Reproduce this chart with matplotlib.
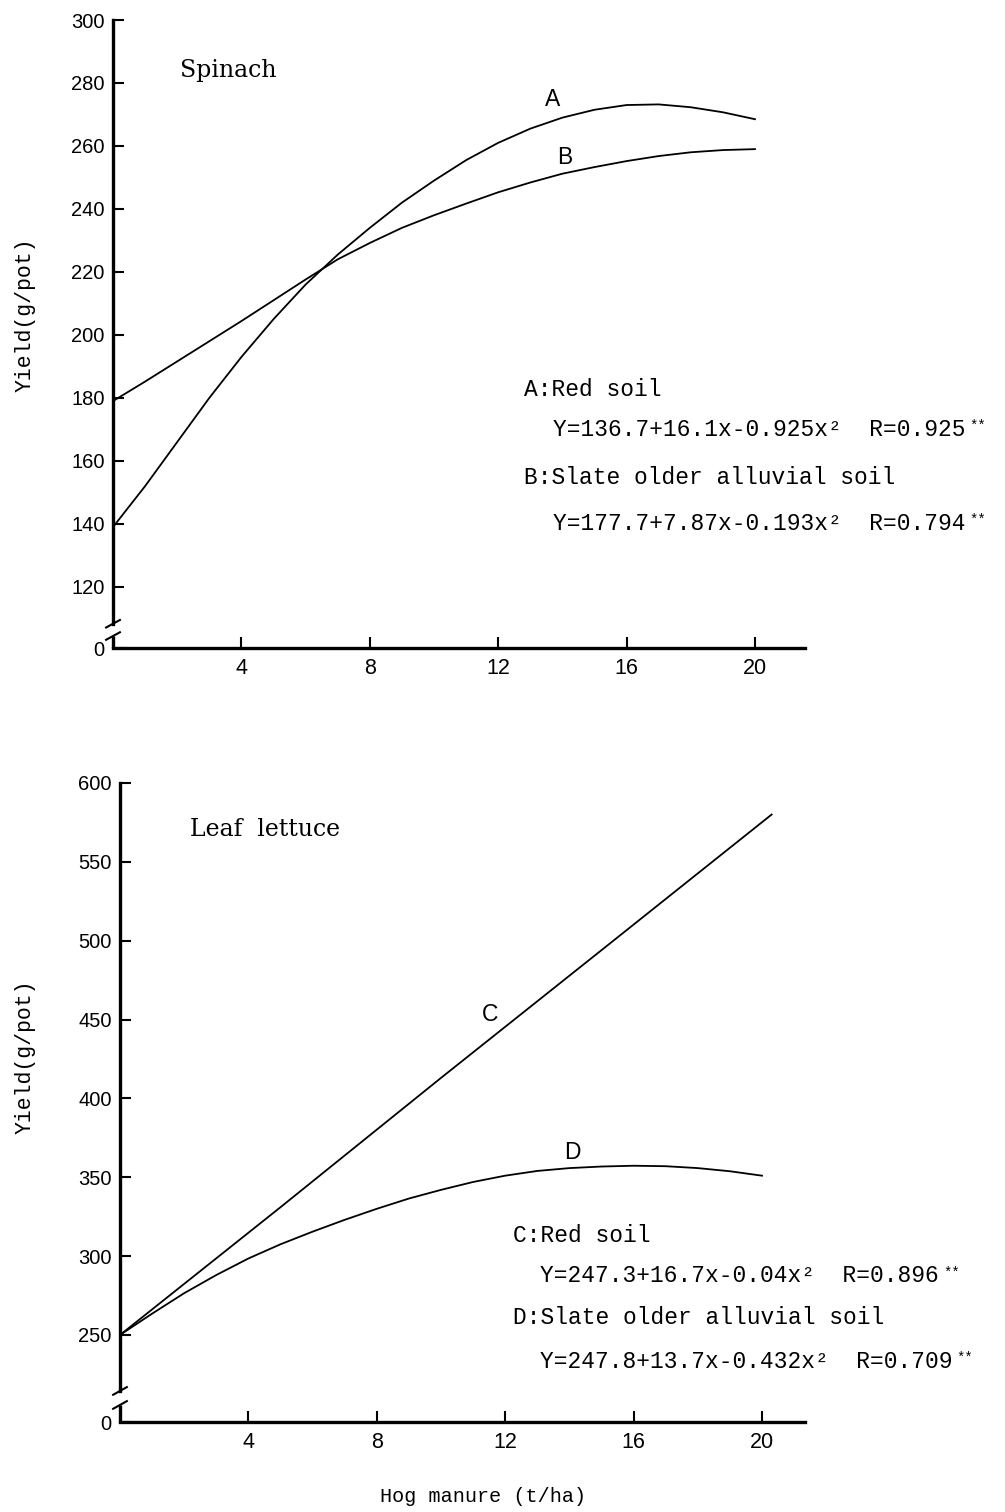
import matplotlib
matplotlib.use('Agg')
import matplotlib.pyplot as plt

# Spinach: hog manure (t/ha) vs yield (g/pot)
sp_x = list(range(0, 21))
sp_a = [139, 152, 166, 180, 193, 205, 216, 225.5, 234, 242, 249,
        255.5, 261, 265.5, 269, 271.5, 273, 273.2, 272.3, 270.7, 268.5]
sp_b = [179, 185.2, 191.6, 198, 204.4, 211, 217.6, 224, 229.2, 234, 238,
        241.7, 245.3, 248.4, 251.2, 253.3, 255.2, 256.8, 258, 258.7, 259]

# Leaf lettuce
lt_c_x = [0, 5, 10, 15, 20.3]
lt_c = [250, 331, 413, 494, 580]
lt_d_x = list(range(0, 21))
lt_d = [250, 263.5, 276.5, 288, 298.5, 307.5, 315.5, 323, 330, 336.5, 342,
        347, 351, 354, 355.8, 356.8, 357.3, 357, 355.8, 353.8, 351]

sp_yticks = [120, 140, 160, 180, 200, 220, 240, 260, 280, 300]
lt_yticks = [250, 300, 350, 400, 450, 500, 550, 600]
xticks = [4, 8, 12, 16, 20]

W, H = 1005, 1512
fig = plt.figure(figsize=(W / 100, H / 100), dpi=100)

mono = 'Liberation Mono'
tick_font = 'Liberation Sans'


def px_axes(left, right, top, bottom):
    return fig.add_axes([left / W, 1 - bottom / H, (right - left) / W, (bottom - top) / H])


def ftext(x, y, s, **kw):
    return fig.text(x / W, 1 - y / H, s, **kw)


def setup(ax, ylo, yhi, yticks, brk_hi, brk_lo, xmax):
    ax.set_xlim(0, xmax)
    ax.set_ylim(ylo, yhi)
    for s in ['top', 'right']:
        ax.spines[s].set_visible(False)
    ax.spines['left'].set_linewidth(2.4)
    ax.spines['bottom'].set_linewidth(2.4)
    ax.spines['left'].set_bounds(brk_hi, yhi)
    # нижний кусок разорванной оси y
    tr = ax.get_yaxis_transform()
    ax.plot([0, 0], [ylo, brk_lo], color='black', lw=2.4, transform=tr, clip_on=False,
            solid_capstyle='butt')
    dy = (yhi - ylo) * 0.006
    for yb in (brk_hi, brk_lo):
        ax.plot([-0.01, 0.01], [yb - dy, yb + dy], color='black', lw=1.5,
                transform=tr, clip_on=False)
    ax.set_yticks([ylo] + yticks)
    ax.set_yticklabels(['0'] + [str(v) for v in yticks])
    ax.set_xticks(xticks)
    ax.set_xticklabels([str(v) for v in xticks])
    ax.tick_params(axis='y', direction='in', length=8, width=1.5, pad=6)
    ax.tick_params(axis='x', direction='in', length=8, width=1.5, pad=7)
    for lab in ax.get_yticklabels():
        lab.set_family(tick_font)
        lab.set_fontsize(14.5)
    for lab in ax.get_xticklabels():
        lab.set_family(tick_font)
        lab.set_fontsize(15.5)


# ---- Spinach ----
ax1 = px_axes(113, 805, 20, 648)
setup(ax1, 100.6, 300, sp_yticks, 108.3, 104.4, (805 - 113) / 32.1)
ax1.plot(sp_x, sp_a, color='black', lw=1.3)
ax1.plot(sp_x, sp_b, color='black', lw=1.3)
ax1.text(13.68, 274.6, 'A', family=tick_font, fontsize=16.5, ha='center', va='center')
ax1.text(14.08, 256.5, 'B', family=tick_font, fontsize=16.5, ha='center', va='center')

# ---- Leaf lettuce ----
ax2 = px_axes(120, 805, 783, 1422)
setup(ax2, 194.8, 600, lt_yticks, 214.5, 205.6, (805 - 120) / 32.1)
ax2.plot(lt_c_x, lt_c, color='black', lw=1.3)
ax2.plot(lt_d_x, lt_d, color='black', lw=1.3)
ax2.text(11.53, 453, 'C', family=tick_font, fontsize=16.5, ha='center', va='center')
ax2.text(14.08, 365.4, 'D', family=tick_font, fontsize=16.5, ha='center', va='center')

# заголовки панелей
ftext(180, 70, 'Spinach', family='DejaVu Serif', fontsize=17, va='center')
ftext(190, 830, 'Leaf  lettuce', family='DejaVu Serif', fontsize=17, va='center')


# уравнения регрессии
def eq_block(x0, y0, lines):
    for (dx, dy, s, star) in lines:
        t = ftext(x0 + dx, y0 + dy, s, family=mono, fontsize=16.5, va='center')
        if star:
            plt.annotate('**', xy=(1, 0.95), xycoords=t, xytext=(3, 0),
                         textcoords='offset points', family=mono, fontsize=10,
                         va='top', ha='left', annotation_clip=False)


eq_block(524, 390, [
    (0, 0, 'A:Red soil', False),
    (29, 39, 'Y=136.7+16.1x-0.925x\u00b2  R=0.925', True),
    (0, 87, 'B:Slate older alluvial soil', False),
    (29, 133, 'Y=177.7+7.87x-0.193x\u00b2  R=0.794', True),
])
eq_block(513, 1235, [
    (0, 0, 'C:Red soil', False),
    (27, 41, 'Y=247.3+16.7x-0.04x\u00b2  R=0.896', True),
    (0, 83, 'D:Slate older alluvial soil', False),
    (27, 126, 'Y=247.8+13.7x-0.432x\u00b2  R=0.709', True),
])

# подписи осей
ftext(25, 315, 'Yield(g/pot)', family=mono, fontsize=15.5, rotation=90, ha='center', va='center')
ftext(25, 1057, 'Yield(g/pot)', family=mono, fontsize=15.5, rotation=90, ha='center', va='center')
ftext(483, 1497, 'Hog manure (t/ha)', family=mono, fontsize=14.5, ha='center', va='center')

plt.savefig('out.png', dpi=100)
